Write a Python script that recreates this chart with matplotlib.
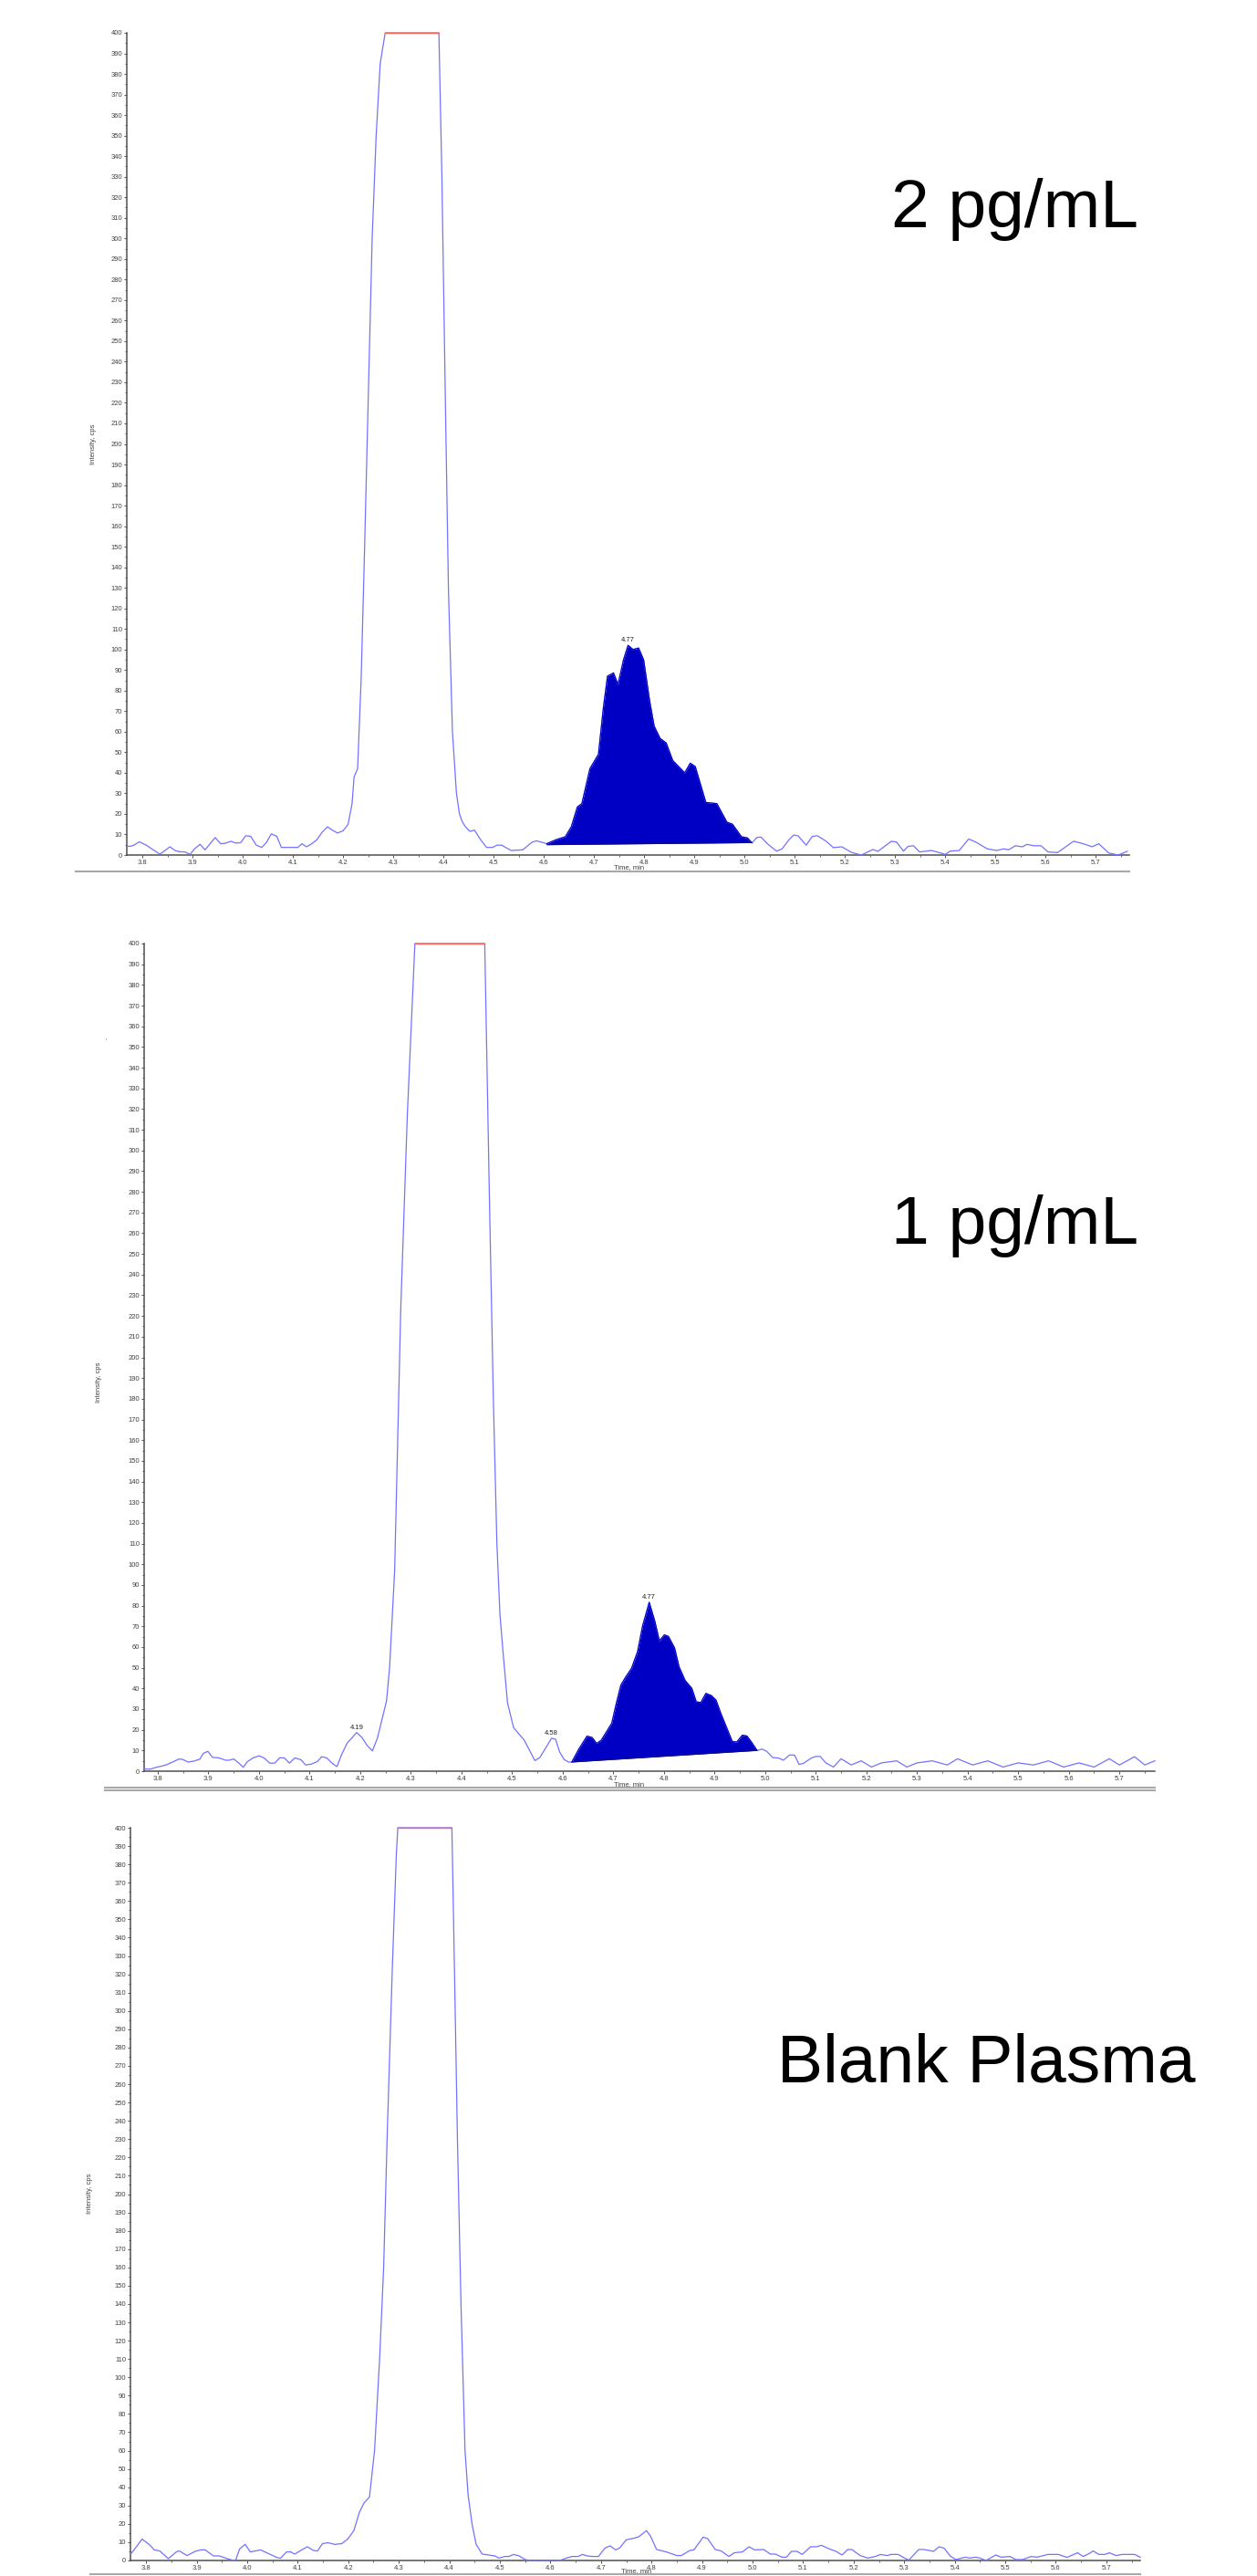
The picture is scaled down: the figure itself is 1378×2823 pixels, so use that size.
import numpy as np
import matplotlib
matplotlib.use("Agg")
import matplotlib.pyplot as plt
from matplotlib.ticker import MultipleLocator, FormatStrFormatter
from matplotlib.lines import Line2D

plt.rcParams['font.family'] = ['Liberation Sans', 'DejaVu Sans']

W, H, DPI = 1378, 2823, 100

# ---------------- data: 2 pg/mL ----------------
t_2pg = [3.769, 3.777, 3.783, 3.794, 3.807, 3.835, 3.855, 3.865, 3.874, 3.885, 3.895, 3.904,
         3.915, 3.925, 3.945, 3.956, 3.965, 3.977, 3.986, 3.996, 4.006, 4.016, 4.027, 4.038,
         4.047, 4.057, 4.068, 4.077, 4.110, 4.118, 4.127, 4.138, 4.148, 4.158, 4.169, 4.178,
         4.189, 4.200, 4.210, 4.218, 4.222, 4.229, 4.236, 4.243, 4.250, 4.258, 4.266, 4.274,
         4.284, 4.391, 4.397, 4.404, 4.410, 4.418, 4.426, 4.432, 4.438, 4.444, 4.453, 4.462,
         4.474, 4.486, 4.498, 4.507, 4.516, 4.535, 4.558, 4.577, 4.586, 4.606, 4.624, 4.643,
         4.655, 4.667, 4.676, 4.692, 4.709, 4.719, 4.727, 4.739, 4.748, 4.759, 4.768, 4.778,
         4.789, 4.799, 4.811, 4.820, 4.832, 4.844, 4.857, 4.869, 4.881, 4.892, 4.902, 4.923,
         4.945, 4.965, 4.976, 4.994, 5.006, 5.015, 5.025, 5.033, 5.047, 5.064, 5.075, 5.089,
         5.098, 5.107, 5.123, 5.135, 5.145, 5.163, 5.177, 5.194, 5.214, 5.233, 5.256, 5.266,
         5.293, 5.303, 5.317, 5.326, 5.337, 5.349, 5.373, 5.391, 5.400, 5.410, 5.428, 5.447,
         5.461, 5.484, 5.503, 5.517, 5.526, 5.540, 5.554, 5.563, 5.577, 5.591, 5.605, 5.624,
         5.656, 5.675, 5.693, 5.706, 5.726, 5.745, 5.763]
i_2pg = [4.2, 4.3, 4.8, 6.4, 4.9, 0.4, 4.0, 2.2, 1.6, 1.5, 0.3, 3.0,
         5.2, 2.5, 8.5, 5.5, 5.7, 6.7, 5.8, 6.0, 9.4, 9.1, 4.8, 3.7,
         6.0, 10.3, 9.1, 3.7, 3.7, 5.5, 4.0, 5.5, 7.5, 11.0, 13.7, 12.2,
         10.7, 11.8, 14.9, 25.0, 38.0, 42.0, 85.0, 150.0, 220.0, 300.0, 350.0, 385.0,
         400.0, 400.0, 330.0, 220.0, 130.0, 60.0, 30.0, 20.0, 16.0, 13.7, 11.5, 12.1,
         7.5, 3.7, 3.7, 4.8, 4.8, 2.2, 2.5, 6.3, 6.9, 5.5, 7.4, 8.9,
         13.8, 23.4, 25.0, 42.0, 49.0, 72.0, 87.0, 88.6, 83.0, 95.0, 102.0, 100.0,
         100.7, 95.0, 75.0, 62.7, 56.7, 54.5, 46.0, 43.0, 40.0, 44.7, 43.0, 25.6,
         25.0, 16.0, 15.0, 8.9, 8.3, 5.9, 8.6, 8.7, 5.2, 1.9, 3.0, 7.5,
         9.7, 9.3, 4.8, 9.0, 9.4, 6.7, 3.6, 4.0, 1.2, 0.0, 2.7, 1.8,
         6.7, 6.3, 1.9, 4.2, 4.5, 1.5, 2.2, 1.0, 0.3, 1.9, 2.2, 7.8,
         6.3, 3.0, 2.2, 3.0, 2.5, 4.5, 4.0, 5.2, 4.5, 4.5, 1.5, 1.2,
         6.7, 5.5, 4.0, 5.5, 1.0, 0.0, 1.8]
fill_t_2pg = [4.606, 5.015]
fill_base_2pg = [5.0, 6.0]
label_t_2pg = [4.77]

# ---------------- data: 1 pg/mL ----------------
t_1pg = [3.772, 3.786, 3.797, 3.807, 3.817, 3.831, 3.841, 3.848, 3.860, 3.872, 3.883, 3.890,
         3.899, 3.908, 3.921, 3.934, 3.941, 3.950, 3.961, 3.969, 3.977, 3.988, 4.000, 4.010,
         4.021, 4.031, 4.041, 4.050, 4.060, 4.071, 4.083, 4.092, 4.103, 4.115, 4.124, 4.134,
         4.145, 4.154, 4.163, 4.174, 4.193, 4.203, 4.214, 4.224, 4.234, 4.245, 4.252, 4.258,
         4.268, 4.280, 4.293, 4.308, 4.446, 4.455, 4.463, 4.470, 4.476, 4.482, 4.491, 4.503,
         4.524, 4.545, 4.555, 4.567, 4.578, 4.586, 4.594, 4.603, 4.612, 4.618, 4.632, 4.648,
         4.658, 4.667, 4.676, 4.688, 4.697, 4.706, 4.715, 4.724, 4.736, 4.748, 4.758, 4.771,
         4.782, 4.791, 4.801, 4.809, 4.821, 4.830, 4.842, 4.855, 4.864, 4.873, 4.883, 4.894,
         4.903, 4.913, 4.924, 4.935, 4.944, 4.955, 4.964, 4.974, 4.984, 4.994, 5.003, 5.015,
         5.027, 5.036, 5.048, 5.058, 5.067, 5.076, 5.091, 5.100, 5.109, 5.120, 5.135, 5.150,
         5.170, 5.190, 5.210, 5.230, 5.260, 5.280, 5.300, 5.330, 5.360, 5.380, 5.410, 5.440,
         5.470, 5.500, 5.530, 5.560, 5.590, 5.620, 5.650, 5.680, 5.700, 5.730, 5.750, 5.770]
i_1pg = [1.0, 1.0, 1.9, 2.4, 3.1, 4.6, 5.8, 5.8, 4.4, 4.9, 5.8, 8.6,
         9.6, 6.7, 6.4, 5.3, 5.3, 5.9, 3.7, 1.9, 4.6, 6.4, 7.4, 6.4,
         3.9, 3.9, 6.5, 6.4, 3.9, 6.4, 5.5, 3.0, 3.4, 4.6, 7.0, 6.4,
         3.7, 2.2, 7.9, 13.5, 18.7, 16.4, 12.3, 9.8, 16.0, 27.0, 34.0, 50.0,
         97.0, 223.0, 317.0, 400.0, 400.0, 280.0, 180.0, 110.0, 76.0, 58.0, 33.0, 21.0,
         15.0, 5.1, 6.6, 11.5, 15.9, 15.4, 9.3, 5.6, 4.4, 4.4, 10.7, 16.9,
         16.3, 13.4, 14.9, 19.6, 23.2, 32.8, 41.6, 45.3, 49.7, 57.8, 70.3, 81.6,
         72.5, 63.0, 65.9, 65.1, 59.6, 50.4, 43.8, 40.1, 33.5, 33.2, 37.6, 36.5,
         34.3, 27.6, 21.0, 14.4, 14.1, 17.4, 17.0, 13.7, 10.0, 10.7, 9.6, 6.6,
         6.3, 5.3, 7.8, 7.8, 3.3, 3.8, 6.3, 7.1, 7.1, 4.0, 2.0, 6.0,
         3.0, 5.0, 2.0, 4.0, 5.0, 2.0, 4.0, 5.0, 3.0, 6.0, 3.0, 5.0,
         2.0, 4.0, 3.0, 5.0, 2.0, 4.0, 2.0, 6.0, 3.0, 7.0, 3.0, 5.0]
fill_t_1pg = [4.618, 4.984]
fill_base_1pg = [4.4, 10.0]
label_t_1pg = [4.19, 4.58, 4.77]

# ---------------- data: Blank Plasma ----------------
t_blank = [3.769, 3.780, 3.792, 3.808, 3.816, 3.827, 3.844, 3.860, 3.865, 3.881, 3.897, 3.909,
           3.917, 3.933, 3.945, 3.957, 3.973, 3.977, 3.985, 3.996, 4.006, 4.022, 4.026, 4.042,
           4.058, 4.066, 4.078, 4.086, 4.094, 4.106, 4.119, 4.131, 4.139, 4.149, 4.160, 4.173,
           4.187, 4.199, 4.211, 4.222, 4.231, 4.242, 4.252, 4.262, 4.270, 4.277, 4.287, 4.295,
           4.298, 4.405, 4.409, 4.416, 4.423, 4.431, 4.437, 4.445, 4.453, 4.465, 4.477, 4.490,
           4.498, 4.510, 4.518, 4.527, 4.538, 4.550, 4.562, 4.619, 4.631, 4.643, 4.655, 4.663,
           4.673, 4.683, 4.695, 4.708, 4.718, 4.729, 4.737, 4.750, 4.766, 4.775, 4.790, 4.798,
           4.810, 4.829, 4.850, 4.859, 4.876, 4.884, 4.902, 4.911, 4.926, 4.938, 4.953, 4.964,
           4.980, 4.993, 5.004, 5.022, 5.035, 5.045, 5.058, 5.067, 5.077, 5.088, 5.098, 5.115,
           5.127, 5.136, 5.152, 5.165, 5.177, 5.188, 5.196, 5.213, 5.228, 5.243, 5.253, 5.266,
           5.274, 5.288, 5.301, 5.309, 5.329, 5.339, 5.358, 5.369, 5.379, 5.391, 5.402, 5.421,
           5.429, 5.442, 5.450, 5.462, 5.481, 5.492, 5.509, 5.521, 5.534, 5.551, 5.563, 5.584,
           5.605, 5.622, 5.643, 5.654, 5.666, 5.674, 5.685, 5.697, 5.706, 5.719, 5.731, 5.756,
           5.767]
i_blank = [3.3, 7.2, 11.7, 8.3, 5.8, 5.2, 1.0, 4.7, 5.3, 2.7, 5.0, 5.8,
           5.8, 2.5, 2.5, 1.3, 0.0, 0.0, 6.3, 8.8, 4.7, 5.5, 5.8, 3.8,
           1.7, 1.2, 4.7, 4.7, 3.5, 5.5, 7.5, 5.5, 5.2, 9.2, 9.7, 8.8,
           9.2, 11.7, 16.3, 26.3, 31.3, 34.7, 60.0, 110.0, 160.0, 232.0, 322.0, 385.0,
           400.0, 400.0, 340.0, 230.0, 140.0, 60.0, 36.0, 19.7, 8.8, 3.5, 3.0, 2.5,
           1.3, 2.2, 2.2, 3.3, 2.5, 0.5, 0.0, 0.0, 1.3, 2.2, 2.2, 3.3,
           2.5, 2.2, 2.2, 6.8, 8.0, 5.8, 6.8, 11.3, 12.2, 13.0, 16.3, 13.3,
           6.0, 4.7, 2.7, 2.7, 5.5, 5.8, 12.7, 12.0, 6.0, 5.2, 2.2, 4.2,
           4.7, 7.5, 5.8, 6.0, 3.5, 3.5, 1.8, 1.8, 5.0, 5.0, 3.3, 7.5,
           7.5, 8.3, 6.3, 5.0, 3.0, 6.0, 6.0, 2.7, 1.3, 2.2, 3.3, 2.7,
           3.3, 3.3, 1.3, 0.2, 6.0, 6.0, 5.0, 7.5, 6.7, 2.5, 0.5, 1.8,
           1.3, 1.8, 1.3, 0.0, 3.0, 1.8, 2.2, 0.5, 0.5, 2.2, 1.8, 3.3,
           3.3, 1.7, 4.2, 2.2, 3.8, 5.2, 3.3, 3.3, 4.2, 2.7, 3.3, 3.3,
           1.8]

panel_titles = ["2 pg/mL", "1 pg/mL", "Blank Plasma"]
y_ticks = list(range(0, 401, 10))
x_axis_label = "Time, min"
y_axis_label = "Intensity, cps"

# ---------------- layout (pixels) ----------------
panels = [
    dict(t=t_2pg, i=i_2pg, fill_t=fill_t_2pg, fill_b=fill_base_2pg, labels=label_t_2pg,
         box=(139, 1238, 36, 937), xlim=(3.769, 5.767), title_xy=(1248, 230),
         ylab_xy=(103, 487), xlab_xy=(690, 951), sep=[(83, 1238, 955)]),
    dict(t=t_1pg, i=i_1pg, fill_t=fill_t_1pg, fill_b=fill_base_1pg, labels=label_t_1pg,
         box=(158, 1266, 1034, 1941), xlim=(3.773, 5.77), title_xy=(1248, 1343),
         ylab_xy=(108, 1515), xlab_xy=(690, 1956), sep=[(115, 1266, 1959), (115, 1266, 1962)]),
    dict(t=t_blank, i=i_blank, fill_t=None, fill_b=None, labels=[],
         box=(143, 1250, 2003, 2806), xlim=(3.769, 5.767), title_xy=(1310, 2262),
         ylab_xy=(99, 2404), xlab_xy=(698, 2818), sep=[(99, 1250, 2821)]),
]

fig = plt.figure(figsize=(W / DPI, H / DPI), dpi=DPI)
fig.patch.set_facecolor('white')

BLUE = '#7272ff'
RED = '#ff6060'
FILL = '#0000c4'
AX = '#505050'
TXT = '#404040'


def fx(px):
    return px / W


def fy(py):
    return 1 - py / H


for n, p in enumerate(panels):
    l, r, t, b = p['box']
    ax = fig.add_axes([fx(l), fy(b), fx(r - l), (b - t) / H])
    tt = np.array(p['t'])
    ii = np.array(p['i'])
    ax.plot(tt, np.minimum(ii, 400), color=BLUE, lw=0.9, zorder=3, clip_on=False)
    sat = np.where(ii >= 400, ii, np.nan)
    ax.plot(tt, np.minimum(sat, 400), color=RED, lw=1.0, zorder=4, clip_on=False)
    if p['fill_t'] is not None:
        t0, t1 = p['fill_t']
        m = (tt >= t0 - 1e-9) & (tt <= t1 + 1e-9)
        base = np.interp(tt[m], p['fill_t'], p['fill_b'])
        ax.fill_between(tt[m], base, ii[m], color=FILL, lw=0, zorder=2)
        ax.plot(tt[m], ii[m], color=FILL, lw=0.8, zorder=3.5)
        ax.plot(p['fill_t'], p['fill_b'], color='#101060', lw=0.6, zorder=3.5)
    for lt in p['labels']:
        k = int(np.argmin(np.abs(tt - lt)))
        pk = ii[max(k - 2, 0):k + 3].max()
        ax.annotate(f"{lt:.2f}", (tt[k], pk), xytext=(0, 1.5), textcoords='offset points',
                    ha='center', va='bottom', fontsize=5.5, color='#202020', zorder=5)

    ax.set_xlim(*p['xlim'])
    ax.set_ylim(0, 400)
    ax.set_yticks(y_ticks)
    ax.yaxis.set_minor_locator(MultipleLocator(5))
    ax.xaxis.set_major_locator(MultipleLocator(0.1))
    ax.xaxis.set_minor_locator(MultipleLocator(0.05))
    ax.xaxis.set_major_formatter(FormatStrFormatter('%.1f'))
    for s in ['top', 'right']:
        ax.spines[s].set_visible(False)
    for s in ['left', 'bottom']:
        ax.spines[s].set_color(AX)
        ax.spines[s].set_linewidth(1.1)
    ax.tick_params(which='major', direction='out', length=2.4, width=0.7, color=AX,
                   labelsize=5.5, labelcolor=TXT, pad=1.2)
    ax.tick_params(which='minor', direction='out', length=1.4, width=0.6, color=AX)
    ax.patch.set_alpha(0)

    tx, ty = p['title_xy']
    fig.text(fx(tx), fy(ty), panel_titles[n], ha='right', va='center',
             fontsize=54, color='black')
    yx, yy = p['ylab_xy']
    fig.text(fx(yx), fy(yy), y_axis_label, rotation=90, ha='center', va='center',
             fontsize=5.5, color=TXT)
    xx, xy = p['xlab_xy']
    fig.text(fx(xx), fy(xy), x_axis_label, ha='center', va='center', fontsize=5.5, color=TXT)
    for (x0, x1, yy2) in p['sep']:
        fig.add_artist(Line2D([fx(x0), fx(x1)], [fy(yy2), fy(yy2)], color='#a8a8a8',
                              lw=1.5, zorder=10))

fig.text(fx(116), fy(1141), "'", ha='center', va='center', fontsize=5, color='#606060')

fig.savefig('out.png', dpi=DPI, facecolor='white')
